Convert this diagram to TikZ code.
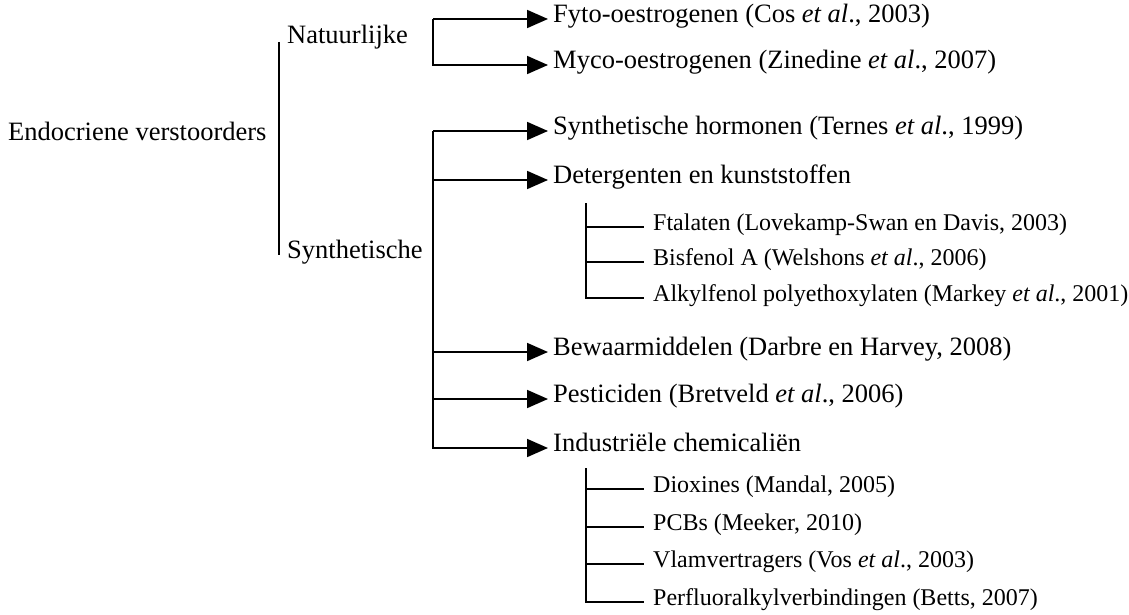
\documentclass[tikz,border=0pt]{standalone}
\usepackage{fontspec}
\setmainfont{Liberation Serif}
\usepackage{tikz}
\usetikzlibrary{arrows.meta,positioning,calc}

\begin{document}
\begin{tikzpicture}[x=1pt,y=1pt,font=\fontsize{26.5}{30}\selectfont,
    item/.style={anchor=west, inner sep=0pt, text height=0.66em, text depth=0pt},
    subitem/.style={item, font=\fontsize{24}{28}\selectfont},
    ln/.style={line width=1.8pt},
    arr/.style={ln, shorten >=5pt, -{Triangle[length=21pt,width=18pt]}}]
  \useasboundingbox (0,0) rectangle (1129,-615);

  % root and the two groups
  \node[item] (root) at (8,-137) {Endocriene verstoorders};
  \node[item] (nat) at (287,-40) {Natuurlijke};
  \node[item] (syn) at (287,-255) {Synthetische};
  \coordinate (rtop) at (279,-42);
  \coordinate (rbot) at (279,-255);
  \draw[ln] (rtop) -- (rbot);

  % natural
  \node[item] (fyto) at (553,-19) {Fyto-oestrogenen (Cos \textit{et al}., 2003)};
  \node[item] (myco) at (553,-65) {Myco-oestrogenen (Zinedine \textit{et al}., 2007)};
  \coordinate (ntop) at (433,-19);
  \draw[arr] (ntop) -- (fyto.west);
  \draw[arr] (ntop) |- (myco.west);

  % synthetic
  \node[item] (horm) at (553,-131) {Synthetische hormonen (Ternes \textit{et al}., 1999)};
  \node[item] (det) at (553,-180) {Detergenten en kunststoffen};
  \node[item] (bew) at (553,-352) {Bewaarmiddelen (Darbre en Harvey, 2008)};
  \node[item] (pest) at (553,-399) {Pesticiden (Bretveld \textit{et al}., 2006)};
  \node[item] (ind) at (553,-448) {Industriële chemicaliën};
  \coordinate (stop) at (433,-131);
  \draw[arr] (stop) -- (horm.west);
  \foreach \n in {det,bew,pest,ind}
    \draw[arr] (stop) |- (\n.west);

  % detergents
  \node[subitem] (ftal) at (653,-227) {Ftalaten (Lovekamp-Swan en Davis, 2003)};
  \node[subitem] (bisf) at (653,-262) {Bisfenol A (Welshons \textit{et al}., 2006)};
  \node[subitem] (alky) at (653,-298) {Alkylfenol polyethoxylaten (Markey \textit{et al}., 2001)};
  \coordinate (dtop) at (586,-203);
  \foreach \n in {ftal,bisf,alky}
    \draw[ln] (dtop) |- ($(\n.west)+(-9,0)$);

  % industrial
  \node[subitem] (diox) at (653,-489) {Dioxines (Mandal, 2005)};
  \node[subitem] (pcb) at (653,-527) {PCBs (Meeker, 2010)};
  \node[subitem] (vlam) at (653,-564) {Vlamvertragers (Vos \textit{et al}., 2003)};
  \node[subitem] (perf) at (653,-602) {Perfluoralkylverbindingen (Betts, 2007)};
  \coordinate (itop) at (586,-468);
  \foreach \n in {diox,pcb,vlam,perf}
    \draw[ln] (itop) |- ($(\n.west)+(-9,0)$);
\end{tikzpicture}
\end{document}
